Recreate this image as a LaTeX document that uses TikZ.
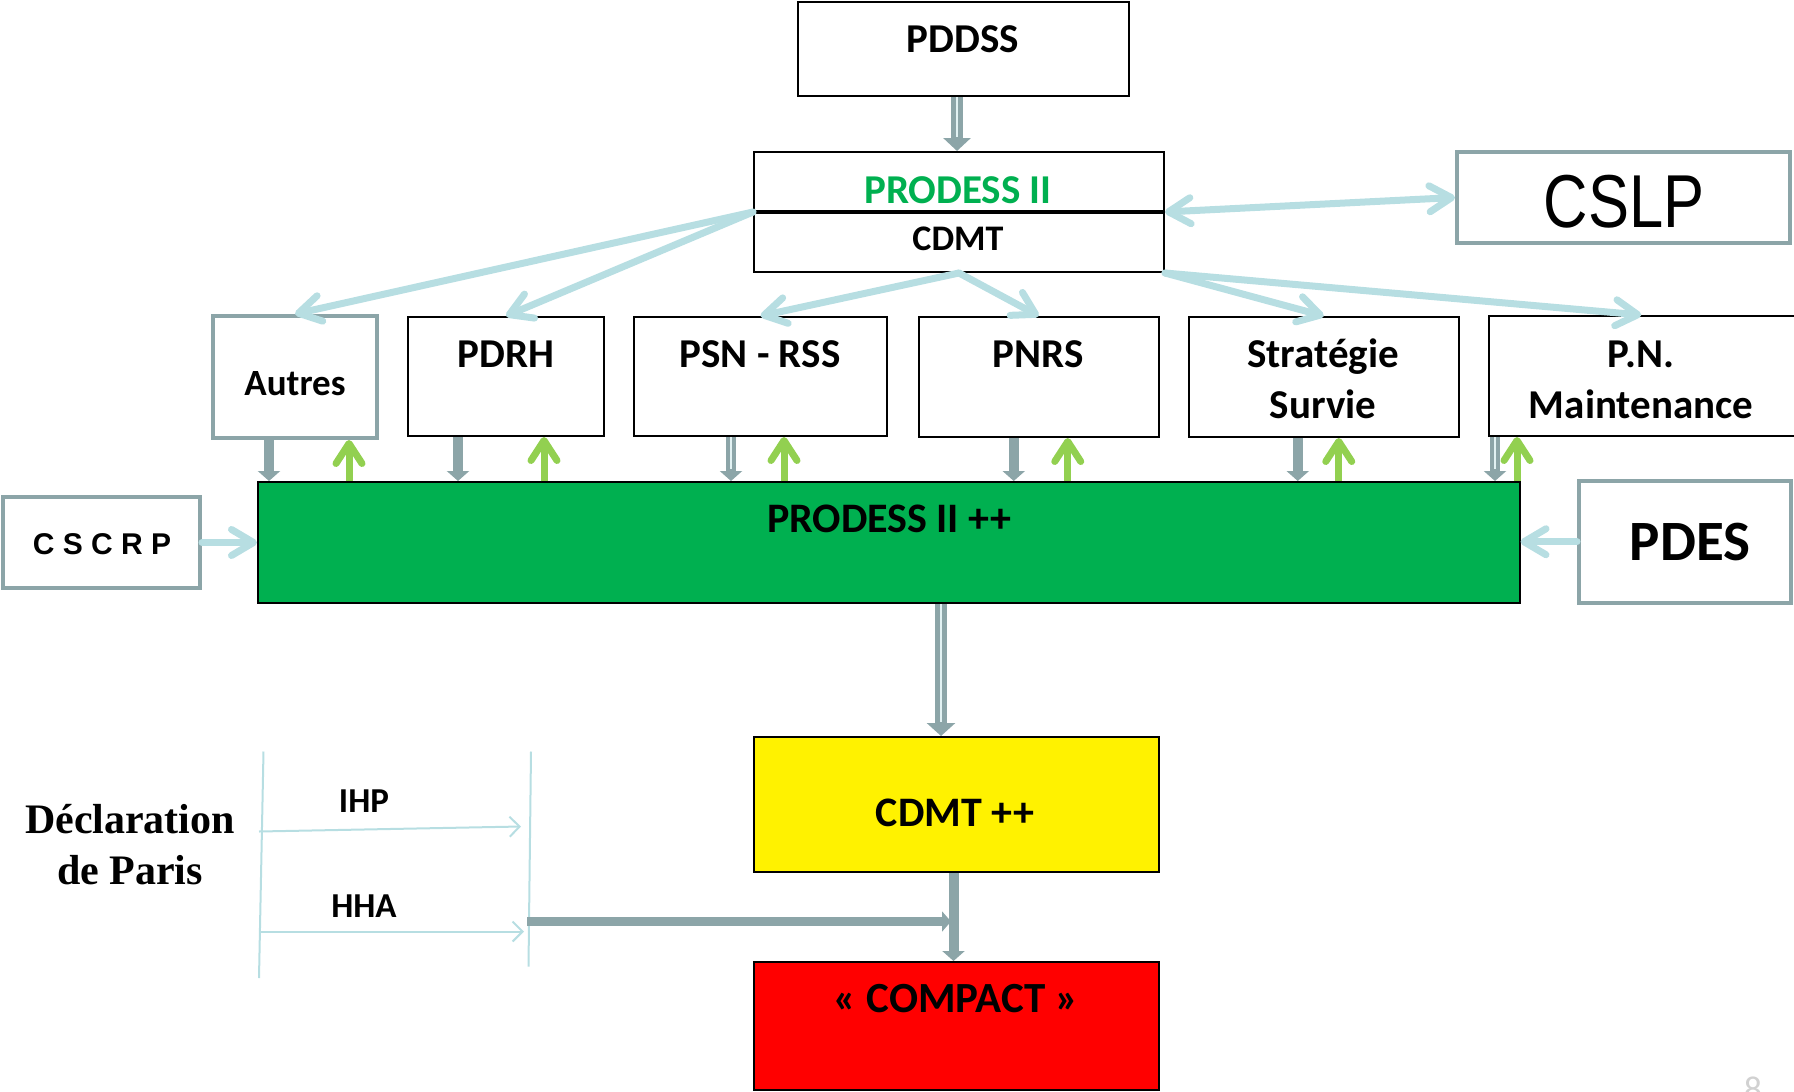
\documentclass[tikz,border=0pt]{standalone}
\usepackage{graphicx}
\usepackage{fontspec}
\setmainfont{Carlito}
\newfontfamily\parisfont{Liberation Serif}
\newfontfamily\arialfont{Liberation Sans}
\usetikzlibrary{arrows.meta}
\tikzset{>=latex}

\definecolor{paleblue}{RGB}{183,222,226}
\definecolor{slate}{RGB}{140,165,168}
\definecolor{leaf}{RGB}{146,208,80}
\definecolor{progreen}{RGB}{0,176,80}

\newcommand{\txtsize}[1]{\fontsize{#1}{25.5}\selectfont}

\tikzset{
	plainbox/.style={draw=black, line width=1pt, inner sep=0pt},
	greybox/.style={draw=slate, line width=2pt, fill=white, inner sep=0pt},
	txt/.style={anchor=base, inner sep=0pt},
	flow/.style={draw=paleblue, line width=3.5pt, line cap=round, -{Straight Barb[length=11pt, width=13pt, round]}},
	flowboth/.style={draw=paleblue, line width=3.5pt, line cap=round, {Straight Barb[length=11pt, width=13pt, round]}-{Straight Barb[length=11pt, width=13pt, round]}},
	feed/.style={draw=slate, line width=5pt, -{Triangle[length=5pt, width=11pt]}},
	core/.style={draw=white!60!paleblue, line width=1pt, shorten >=6pt},
	back/.style={draw=leaf, line width=3.5pt, -{Straight Barb[length=10pt, width=13pt, round]}},
	thinflow/.style={draw=paleblue, line width=1pt, -{Straight Barb[length=5pt, width=10pt]}}
}

\begin{document}
\begin{tikzpicture}[x=0.5pt, y=-0.5pt]
		\useasboundingbox (0,0) rectangle (1794,1092);

		% Boxes
		\node[plainbox, minimum width=165.5pt, minimum height=47pt] (pddss) at (963.5,49) {};
		\node[plainbox, minimum width=205pt, minimum height=60pt] (prodess) at (959,212) {};
		\node[greybox, minimum width=166.5pt, minimum height=45.5pt] (cslp) at (1623.5,197.5) {};
		\node[greybox, minimum width=82pt, minimum height=61pt] (autres) at (295,377) {};
		\node[plainbox, minimum width=97.75pt, minimum height=59.5pt] (pdrh) at (506,376.5) {};
		\node[plainbox, minimum width=126.5pt, minimum height=59.5pt] (psn) at (760.5,376.5) {};
		\node[plainbox, minimum width=120.25pt, minimum height=60pt] (pnrs) at (1038.75,377) {};
		\node[plainbox, minimum width=135.25pt, minimum height=60pt] (strat) at (1323.75,377) {};
		\node[plainbox, minimum width=155.75pt, minimum height=60pt] (pnm) at (1644.25,376) {};
		\node[plainbox, fill=progreen, minimum width=630.75pt, minimum height=60.5pt] (bar) at (888.75,542.5) {};
		\node[greybox, minimum width=98.5pt, minimum height=45.5pt] (cscrp) at (101.5,542.5) {};
		\node[greybox, minimum width=105.75pt, minimum height=61.25pt] (pdes) at (1684.75,541.75) {};
		\node[plainbox, fill=yellow, minimum width=202.5pt, minimum height=67.5pt] (cdmtpp) at (956.5,804.5) {};
		\node[plainbox, fill=red, minimum width=202.5pt, minimum height=64pt] (compact) at (956.5,1026) {};
		\draw[line width=2pt] (prodess.west) -- (prodess.east);

		% Texts
		\node[txt, font=\bfseries\txtsize{20.5}] (pddss-txt) at (963,53) {PDDSS};
		\node[txt, text=progreen, font=\bfseries\txtsize{20.5}] (prodess-txt) at (958,203) {PRODESS II};
		\node[txt, font=\bfseries\txtsize{18}] (cdmt-txt) at (958,250) {CDMT};
		\node[txt, font=\arialfont\txtsize{37.5}] (cslp-txt) at (1624,227) {\scalebox{0.82}[1]{CSLP}};
		\node[txt, font=\bfseries\txtsize{18.5}] (autres-txt) at (295,395) {Autres};
		\node[txt, font=\bfseries\txtsize{20.5}] (pdrh-txt) at (506,367) {PDRH};
		\node[txt, font=\bfseries\txtsize{20.5}] (psn-txt) at (760,367) {PSN - RSS};
		\node[txt, font=\bfseries\txtsize{20.5}] (pnrs-txt) at (1038,367) {PNRS};
		\node[txt, font=\bfseries\txtsize{20.5}] (strat-txt) at (1323,367) {\begin{tabular}[t]{@{}c@{}}Stratégie\\Survie\end{tabular}};
		\node[txt, font=\bfseries\txtsize{20.5}] (pnm-txt) at (1641,367) {\begin{tabular}[t]{@{}c@{}}P.N.\\Maintenance\end{tabular}};
		\node[txt, font=\bfseries\txtsize{21}] (bar-txt) at (889,532) {PRODESS II ++};
		\node[txt, font=\arialfont\bfseries\txtsize{15}] (cscrp-txt) at (102,554) {C S C R P};
		\node[txt, font=\bfseries\txtsize{28.5}] (pdes-txt) at (1690,560) {PDES};
		\node[txt, font=\bfseries\txtsize{21}] (cdmtpp-txt) at (955,826) {CDMT ++};
		\node[txt, font=\bfseries\txtsize{21.5}] (compact-txt) at (956,1012) {« COMPACT »};
		\node[txt, font=\bfseries\txtsize{17.5}] (ihp-txt) at (364,812) {IHP};
		\node[txt, font=\bfseries\txtsize{17.5}] (hha-txt) at (364,917) {HHA};
		\node[txt, font=\parisfont\bfseries\txtsize{21}] (paris-txt) at (130,833) {\begin{tabular}[t]{@{}c@{}}Déclaration\\de Paris\end{tabular}};
		\node[txt, text=black!18, font=\txtsize{18}] (page-num) at (1753,1101) {8};

		% PRODESS II links
		\draw[flow] (prodess.west) -- (autres.north);
		\draw[flow] (prodess.west) -- (pdrh.north);
		\draw[flow] (prodess.south) -- (psn.north);
		\draw[flow] (prodess.south) -- (pnrs.north);
		\draw[flow] (prodess.south east) -- (strat.north);
		\draw[flow] (prodess.south east) -- ([xshift=-1.5pt]pnm.north);
		\draw[flowboth] (prodess.east) -- (cslp.west);
		\draw[flow] (cscrp.east) -- (bar.west);
		\draw[flow] (pdes.west) -- (bar.east |- pdes.west);

		% Down to the bar
		\draw[feed, line width=6pt, -{Triangle[length=6.5pt, width=13.5pt]}] ([xshift=-3.25pt]pddss.south) -- ([xshift=-3.25pt]pddss.south |- prodess.north);
		\draw[core, shorten >=7pt] ([xshift=-3.25pt]pddss.south) -- ([xshift=-3.25pt]pddss.south |- prodess.north);
		\draw[feed] ([xshift=-13pt]autres.south) -- ([xshift=-13pt]autres.south |- bar.north);
		\draw[feed] ([xshift=-24pt]pdrh.south) -- ([xshift=-24pt]pdrh.south |- bar.north);
		\draw[feed] ([xshift=-14.75pt]psn.south) -- ([xshift=-14.75pt]psn.south |- bar.north);
		\draw[core] ([xshift=-14.75pt]psn.south) -- ([xshift=-14.75pt]psn.south |- bar.north);
		\draw[feed] ([xshift=-12.5pt]pnrs.south) -- ([xshift=-12.5pt]pnrs.south |- bar.north);
		\draw[feed] ([xshift=-13pt]strat.south) -- ([xshift=-13pt]strat.south |- bar.north);
		\draw[feed] ([xshift=3.75pt]pnm.south west) -- ([xshift=3.75pt]pnm.south west |- bar.north);
		\draw[core] ([xshift=3.75pt]pnm.south west) -- ([xshift=3.75pt]pnm.south west |- bar.north);

		% Up from the bar
		\draw[back] ([xshift=27pt]autres.south |- bar.north) -- ([xshift=27pt]autres.south);
		\draw[back] ([xshift=19pt]pdrh.south |- bar.north) -- ([xshift=19pt]pdrh.south);
		\draw[back] ([xshift=11.75pt]psn.south |- bar.north) -- ([xshift=11.75pt]psn.south);
		\draw[back] ([xshift=14.5pt]pnrs.south |- bar.north) -- ([xshift=14.5pt]pnrs.south);
		\draw[back] ([xshift=7.5pt]strat.south |- bar.north) -- ([xshift=7.5pt]strat.south);
		\draw[back] ([xshift=14.75pt]pnm.south west |- bar.north) -- ([xshift=14.75pt]pnm.south west);

		% Bar to CDMT ++ to COMPACT
		\draw[feed, line width=6pt, -{Triangle[length=6.5pt, width=14pt]}] ([xshift=-7.75pt]cdmtpp.north |- bar.south) -- ([xshift=-7.75pt]cdmtpp.north);
		\draw[core, shorten >=7pt] ([xshift=-7.75pt]cdmtpp.north |- bar.south) -- ([xshift=-7.75pt]cdmtpp.north);
		\draw[feed] ([xshift=-1.5pt]cdmtpp.south) -- ([xshift=-1.5pt]compact.north);

		% Declaration de Paris
		\coordinate (dp-lt) at (263.5,751.5);
		\coordinate (dp-lb) at (259,978);
		\coordinate (dp-rt) at (531,751.5);
		\coordinate (dp-rb) at (528.5,966.5);
		\coordinate (ihp-a) at (259,831.5);
		\coordinate (ihp-b) at (521,826.5);
		\coordinate (hha-a) at (259,931.5);
		\coordinate (hha-b) at (524,931.5);
		\coordinate (hha-c) at (527,921.5);
		\draw[paleblue, line width=1pt] (dp-lt) -- (dp-lb);
		\draw[paleblue, line width=1pt] (dp-rt) -- (dp-rb);
		\draw[thinflow] (ihp-a) -- (ihp-b);
		\draw[thinflow] (hha-a) -- (hha-b);
		\draw[feed, line width=4.5pt, -{Triangle[length=4.5pt, width=10pt]}] (hha-c) -- ([xshift=-2.75pt]hha-c -| compact.north);
	\end{tikzpicture}
\end{document}
